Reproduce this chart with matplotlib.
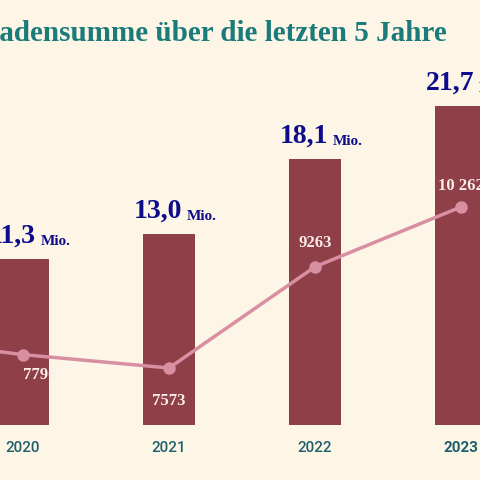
import matplotlib.pyplot as plt

years = ["2019", "2020", "2021", "2022", "2023"]
schaden_mio = [9.0, 11.3, 13.0, 18.1, 21.7]
faelle = [8100, 7796, 7573, 9263, 10262]
faelle_txt = ["8100", "7796", "7573", "9263", "10 262"]

bg = "#fdf5e6"
bar_col = "#8e3f48"
line_col = "#d88fa2"
navy = "#0c0c8c"
teal = "#1b7b7a"

fig = plt.figure(figsize=(4.8, 4.8), dpi=100, facecolor=bg)
ax = fig.add_axes([0, 55 / 480, 1, 425 / 480])
ax.set_facecolor(bg)
x = [i - 1 for i in range(len(years))]
ax.bar(x, schaden_mio, width=0.356, color=bar_col, zorder=1)
ax.set_xlim(-0.158, 3.13)
ax.set_ylim(0, 28.9)
ax.axis("off")

for xi, v in zip(x, schaden_mio):
    s = f"{v:.1f}".replace(".", ",")
    ax.annotate(s, (xi + 0.09, v), xytext=(0, 7), textcoords="offset points",
                ha="right", va="bottom", fontsize=20, fontweight="bold",
                color=navy, family="Liberation Serif")
    ax.annotate("Mio.", (xi + 0.12, v), xytext=(0, 8), textcoords="offset points",
                ha="left", va="bottom", fontsize=11, fontweight="bold",
                color=navy, family="Liberation Serif")

ax2 = ax.twinx()
ax2.set_ylim(6621, 13717)
ax2.axis("off")
ax2.plot(x, faelle, color=line_col, lw=2.5, marker="o", ms=8, zorder=3)
offs = [(0, -20), (12, -15), (0, -24), (0, 17), (0, 15)]
for xi, v, t, o in zip(x, faelle, faelle_txt, offs):
    ax2.annotate(t, (xi, v), xytext=o, textcoords="offset points",
                 ha="center", va="center", fontsize=12, fontweight="bold",
                 color="#fbeee6", family="Liberation Serif", zorder=4)

for xi, y in zip(x, years):
    fig.text((xi + 0.158) / 3.288, 32 / 480, y, ha="center", va="center",
             fontsize=11, color="#1f5f6b", family="Roboto",
             fontweight="bold" if y == "2023" else "medium")

fig.text(-0.095, 0.93, "Schadensumme über die letzten 5 Jahre", ha="left",
         va="center", fontsize=21, fontweight="bold", color=teal,
         family="Liberation Serif")

fig.savefig("out.png", dpi=100, facecolor=bg)
